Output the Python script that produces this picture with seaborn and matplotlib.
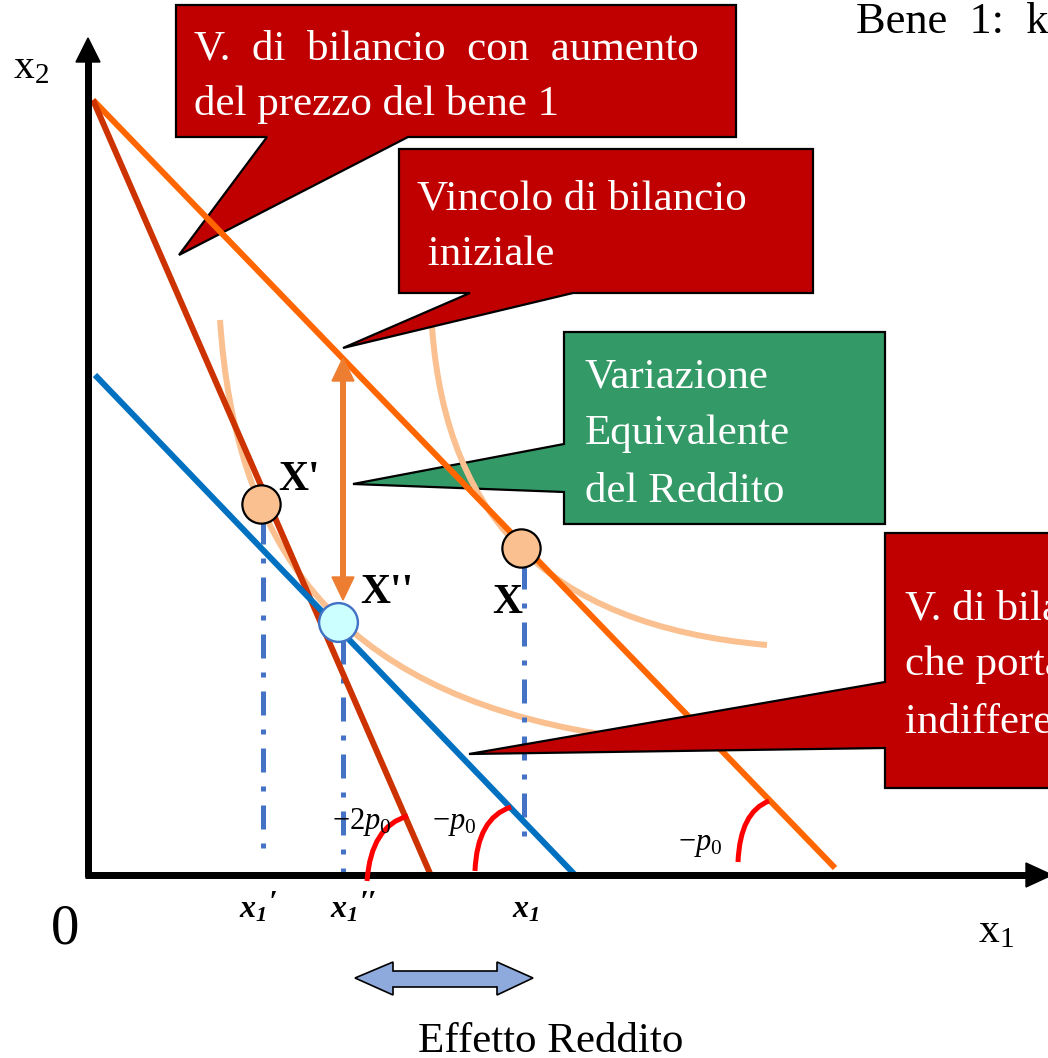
import numpy as np
import pandas as pd
import matplotlib
matplotlib.use("Agg")
import matplotlib.pyplot as plt
import seaborn as sns
from matplotlib.patches import Polygon, PathPatch
from matplotlib.path import Path

# ---------------- data (economic units, 1 unit = 100 px) ----------------
budget_names = ["Vincolo iniziale", "Aumento prezzo bene 1", "Vincolo compensato"]
budget_x1 = [[0.05, 7.47], [0.05, 3.44], [0.07, 4.89]]
budget_x2 = [[7.75, 0.07], [7.75, -0.03], [5.00, -0.02]]

point_names = ["X", "X'", "X''"]
point_x1 = [4.33, 1.73, 2.50]
point_x2 = [3.27, 3.71, 2.53]

proj_base = r"$\mathbfit{x}_{\mathbfit{1}}$"
proj_primes = ["′", "′′", ""]
proj_x1 = [1.75, 2.55, 4.36]
proj_top = [3.55, 2.35, 3.10]
proj_bottom = [0.25, 0.00, 0.25]

# indifference curves: cubic Bezier control points (x1, x2)
ic_low_x1 = [1.32, 1.47, 2.42, 5.12]
ic_low_x2 = [5.55, 3.35, 1.85, 1.41]
ic_high_x1 = [3.43, 3.52, 4.52, 6.79]
ic_high_x2 = [5.65, 3.65, 2.50, 2.30]

# equivalent variation of income (vertical arrow)
ev_x1 = 2.55
ev_x2 = [5.17, 2.75]

slope_labels = [r"$-2p_{\mathit{0}}$", r"$-p_{\mathit{0}}$", r"$-p_{\mathit{0}}$"]

# ---------------- styling ----------------
sns.set_theme(style="white")
plt.rcParams["font.family"] = ["Liberation Serif", "DejaVu Serif"]
plt.rcParams["mathtext.fontset"] = "custom"
plt.rcParams["mathtext.rm"] = "Liberation Serif"
plt.rcParams["mathtext.it"] = "Liberation Serif:italic"
plt.rcParams["mathtext.bf"] = "Liberation Serif:bold"
plt.rcParams["mathtext.bfit"] = "Liberation Serif:italic:bold"

W, H = 1048, 1058
OX, OY = 88, 875  # origin in pixels

def P(px, py):
    return ((px - OX) / 100.0, (OY - py) / 100.0)

def PP(pts):
    return [P(a, b) for a, b in pts]

fig = plt.figure(figsize=(W / 100, H / 100), dpi=100)
ax = fig.add_axes([0, 0, 1, 1])
ax.set_xlim(-OX / 100, (W - OX) / 100)
ax.set_ylim((OY - H) / 100, OY / 100)
ax.axis("off")

PX = 72 / 100  # points per pixel

RED = "#C00000"
GREEN = "#339966"

def callout(pts, color, z):
    ax.add_patch(Polygon(PP(pts), closed=True, facecolor=color, edgecolor="black",
                         linewidth=1.6, zorder=z, joinstyle="miter"))

def txt(px, py, s, size, color="black", z=10, **kw):
    x, y = P(px, py)
    t = ax.text(x, y, s, fontsize=size, color=color, zorder=z, va="baseline",
                ha=kw.pop("ha", "left"), clip_on=True, **kw)
    return t

# callouts below lines
callout([(176, 5), (736, 5), (736, 137), (408, 137), (179, 255), (267, 137), (176, 137)], RED, 1)
callout([(564, 332), (885, 332), (885, 524), (564, 524), (564, 492), (353, 484), (564, 444)], GREEN, 1)

# axes
ax.plot(*zip(P(88, 877), P(88, 58)), color="black", lw=7 * PX, solid_capstyle="butt", zorder=4)
ax.plot(*zip(P(85, 875), P(1030, 875)), color="black", lw=7 * PX, solid_capstyle="butt", zorder=4)
ax.add_patch(Polygon(PP([(76, 62), (100, 62), (88, 38)]), closed=True, color="black", zorder=4))
ax.add_patch(Polygon(PP([(1026, 863), (1026, 887), (1052, 875)]), closed=True, color="black", zorder=4))

# indifference curves
for xs, ys in [(ic_low_x1, ic_low_x2), (ic_high_x1, ic_high_x2)]:
    path = Path(list(zip(xs, ys)), [Path.MOVETO, Path.CURVE4, Path.CURVE4, Path.CURVE4])
    ax.add_patch(PathPatch(path, facecolor="none", edgecolor="#FAC090", lw=6 * PX, zorder=2,
                           capstyle="butt"))

# projections
for x, t, b in zip(proj_x1, proj_top, proj_bottom):
    ax.plot([x, x], [t, b], color="#4472C4", lw=5 * PX, linestyle=(0, (4.8, 2.8, 1.0, 2.8)),
            dash_capstyle="butt", zorder=2)

# budget lines
rows = []
for name, xs, ys in zip(budget_names, budget_x1, budget_x2):
    for a, b in zip(xs, ys):
        rows.append({"x1": a, "x2": b, "line": name})
df = pd.DataFrame(rows)
pal = {"Vincolo iniziale": "#FF6600", "Aumento prezzo bene 1": "#CC3300", "Vincolo compensato": "#0070C0"}
sns.lineplot(data=df, x="x1", y="x2", hue="line", palette=pal, estimator=None, sort=False,
             linewidth=6 * PX, legend=False, ax=ax, zorder=3)
for l in ax.lines[-3:]:
    l.set_solid_capstyle("butt")

# callouts above curves
callout([(399, 149), (813, 149), (813, 293), (573, 293), (343, 348), (470, 293), (399, 293)], RED, 5)
callout([(885, 533), (1060, 533), (1060, 788), (885, 788), (885, 748), (469, 754), (885, 682)], RED, 5)

# equivalent variation arrow
ax.plot([ev_x1, ev_x1], [ev_x2[0] - 0.2, ev_x2[1] + 0.2], color="#ED7D31", lw=6 * PX,
        solid_capstyle="butt", zorder=6)
hw, hl = 0.11, 0.23
ax.add_patch(Polygon([(ev_x1, ev_x2[0]), (ev_x1 - hw, ev_x2[0] - hl), (ev_x1 + hw, ev_x2[0] - hl)],
                     closed=True, color="#ED7D31", zorder=6))
ax.add_patch(Polygon([(ev_x1, ev_x2[1]), (ev_x1 - hw, ev_x2[1] + hl), (ev_x1 + hw, ev_x2[1] + hl)],
                     closed=True, color="#ED7D31", zorder=6))

# points
sns.scatterplot(x=point_x1[:2], y=point_x2[:2], s=760, color="#FAC090", edgecolor="black",
                linewidth=2.2 * PX, ax=ax, zorder=7, legend=False)
sns.scatterplot(x=point_x1[2:], y=point_x2[2:], s=780, color="#CCFFFF", edgecolor="#4472C4",
                linewidth=2.4 * PX, ax=ax, zorder=7, legend=False)

# red angle arcs
arcs = [((367, 881), (371, 826), (408, 816)),
        ((475, 871), (477, 818), (511, 807)),
        ((738, 862), (740, 812), (769, 801))]
for a, c, b in arcs:
    path = Path(PP([a, c, b]), [Path.MOVETO, Path.CURVE3, Path.CURVE3])
    ax.add_patch(PathPatch(path, facecolor="none", edgecolor="#FF0000", lw=5 * PX, zorder=6,
                           capstyle="butt"))

# slope labels
for (px, py), s in zip([(332, 829), (432, 829), (678, 850)], slope_labels):
    txt(px, py, s, 22, z=8)

# point labels
txt(278, 490, "X'", 30, weight="bold", z=8)
txt(360, 603, "X''", 30, weight="bold", z=8)
txt(492, 613, "X", 30, weight="bold", z=8)

# projection labels on x1 axis
for (px, py), pr in zip([(239, 918), (330, 918), (512, 918)], proj_primes):
    txt(px, py, proj_base, 23, z=8)
    if pr:
        txt(px + 30, py - 6, pr, 22, z=8, weight="bold", style="italic")

# axis labels
txt(13, 78, r"$\mathrm{x}_{2}$", 30)
txt(978, 942, r"$\mathrm{x}_{1}$", 30)
txt(51, 943, "0", 41)

# callout texts
WHITE = "white"
txt(194, 60, "V.  di  bilancio  con  aumento", 31, WHITE)
txt(194, 115, "del prezzo del bene 1", 31, WHITE)
txt(417, 209, "Vincolo di bilancio", 31, WHITE)
txt(417, 265, " iniziale", 31, WHITE)
txt(585, 388, "Variazione", 31, WHITE)
txt(585, 444, "Equivalente", 31, WHITE)
txt(585, 502, "del Reddito", 31, WHITE)
txt(905, 620, "V. di bilancio", 31, WHITE)
txt(905, 675, "che porta sulla", 31, WHITE)
txt(905, 733, "indifferenza iniziale", 31, WHITE)

txt(856, 33, "Bene  1:  k", 32)

# income effect arrow
ax.add_patch(Polygon(PP([(355, 978), (393, 962), (393, 971), (497, 971), (497, 962), (533, 978),
                         (497, 995), (497, 987), (393, 987), (393, 995)]),
                     closed=True, facecolor="#8EA9DB", edgecolor="black", lw=1.2, zorder=5))
txt(551, 1052, "Effetto Reddito", 31, ha="center")

fig.savefig("out.png", dpi=100)
